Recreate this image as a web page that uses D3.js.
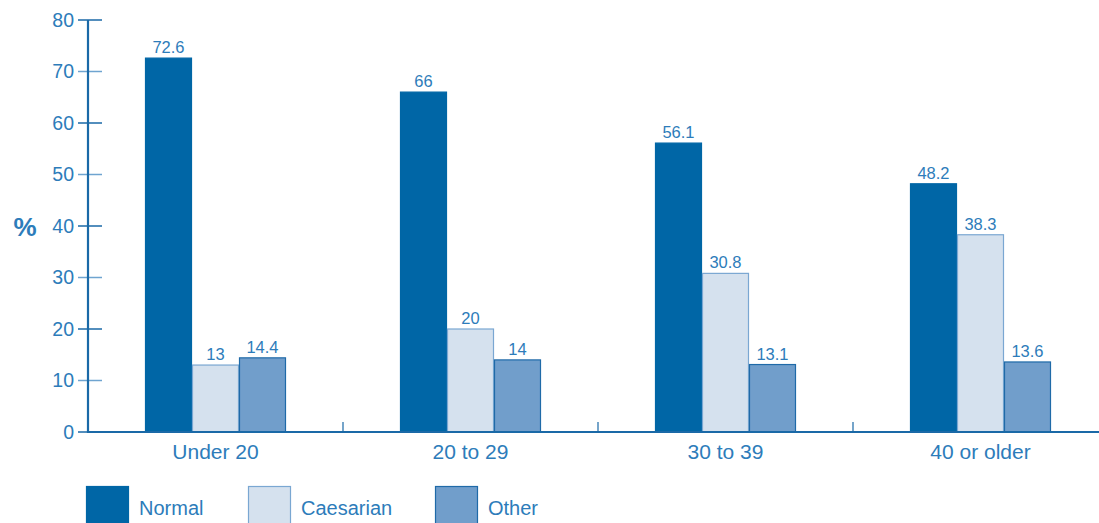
<!DOCTYPE html>
<html><head><meta charset="utf-8">
<script src="https://cdn.jsdelivr.net/npm/d3@7"></script>
<style>
html,body{margin:0;padding:0;background:#fff;}
svg{display:block;font-family:"Liberation Sans",Arial,sans-serif;}
</style></head>
<body>
<script>
const categories = ["Under 20","20 to 29","30 to 39","40 or older"];
const seriesNames = ["Normal","Caesarian","Other"];
const normal = [72.6, 66, 56.1, 48.2];
const caesarian = [13, 20, 30.8, 38.3];
const other = [14.4, 14, 13.1, 13.6];
const yTicks = [0,10,20,30,40,50,60,70,80];

const seriesValues = [normal, caesarian, other];
const fills = ["#0066a6","#d5e1ee","#719ecb"];
const strokes = ["#0066a6","#7aa7d2","#1f6aa8"];
const textColor = "#2d7cba";
const axisColor = "#1a69a7";

const W = 1099, H = 523;
const svg = d3.select("body").append("svg").attr("width",W).attr("height",H);

const x0 = 88, y0 = 432, yTop = 20;
const x = d3.scaleBand().domain(categories).range([x0, x0 + 4*255]).paddingInner(0).paddingOuter(0);
const xs = d3.scaleBand().domain(seriesNames).range([0, 141]);
const y = d3.scaleLinear().domain([0,80]).range([y0, yTop]);

// bars
seriesNames.forEach((s,si)=>{
  const g = svg.append("g");
  g.selectAll("rect").data(categories.map((c,i)=>({c,v:seriesValues[si][i]}))).join("rect")
    .attr("x", d=> x(d.c) + (x.bandwidth()-141)/2 + xs(s) + 0.5)
    .attr("y", d=> y(d.v))
    .attr("width", xs.bandwidth()-1)
    .attr("height", d=> y0 - y(d.v))
    .attr("fill", fills[si])
    .attr("stroke", strokes[si])
    .attr("stroke-width", 1.2);
  g.selectAll("text").data(categories.map((c,i)=>({c,v:seriesValues[si][i]}))).join("text")
    .attr("x", d=> x(d.c) + (x.bandwidth()-141)/2 + xs(s) + xs.bandwidth()/2)
    .attr("y", d=> y(d.v) - 5)
    .attr("text-anchor","middle")
    .attr("font-size",16.5)
    .attr("fill", textColor)
    .text(d=> d.v);
});

// y axis
const yAxis = d3.axisLeft(y).tickValues(yTicks).tickSize(0).tickPadding(14);
const gy = svg.append("g").attr("transform",`translate(${x0},0)`).call(yAxis);
gy.select(".domain").remove();
gy.selectAll("text").attr("font-size",19.5).attr("fill",textColor).attr("font-family","Liberation Sans, Arial, sans-serif");
svg.append("g").selectAll("line").data(yTicks).join("line")
  .attr("x1", x0-10).attr("x2", x0+14)
  .attr("y1", d=>y(d)).attr("y2", d=>y(d))
  .attr("stroke", (d,i)=> i%2===0 ? "#1a69a7" : "#6fa4d0")
  .attr("stroke-width", 1.5);
svg.append("line").attr("x1",x0).attr("x2",x0).attr("y1",y(80)).attr("y2",y0+1)
  .attr("stroke",axisColor).attr("stroke-width",2.2);

// x axis
svg.append("line").attr("x1",x0-1).attr("x2",W).attr("y1",y0).attr("y2",y0)
  .attr("stroke",axisColor).attr("stroke-width",2.2);
svg.append("g").selectAll("line").data(categories.slice(1)).join("line")
  .attr("x1", d=>x(d)).attr("x2", d=>x(d)).attr("y1", y0).attr("y2", y0-10)
  .attr("stroke",axisColor).attr("stroke-width",1.2);
svg.append("g").selectAll("text").data(categories).join("text")
  .attr("x", d=> x(d)+x.bandwidth()/2).attr("y", 459)
  .attr("text-anchor","middle").attr("font-size",21).attr("fill",textColor)
  .text(d=>d);

// % label
svg.append("text").attr("x",25).attr("y",236).attr("text-anchor","middle")
  .attr("font-size",26).attr("font-weight","bold").attr("fill",textColor).text("%");

// legend
const legX = [86, 248, 435];
seriesNames.forEach((s,i)=>{
  svg.append("rect").attr("x",legX[i]+0.5).attr("y",486.5).attr("width",42).attr("height",40)
    .attr("fill",fills[i]).attr("stroke",strokes[i]).attr("stroke-width",1.2);
  svg.append("text").attr("x",legX[i]+53).attr("y",515).attr("font-size",20)
    .attr("fill",textColor).text(s);
});
</script>
</body></html>
